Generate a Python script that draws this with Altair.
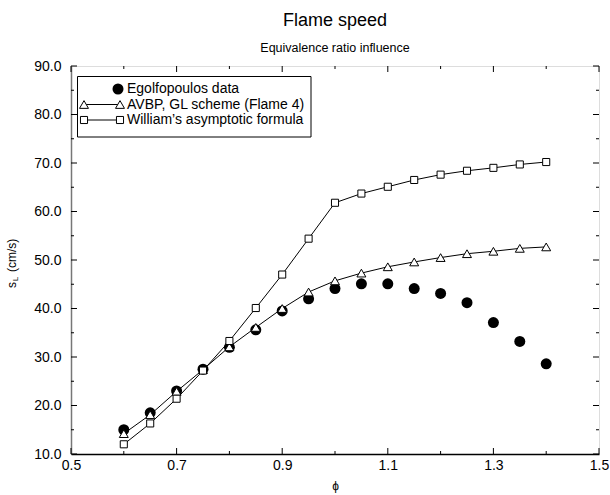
import altair as alt
import pandas as pd

# ---------------- data ----------------
phi = [0.60, 0.65, 0.70, 0.75, 0.80, 0.85, 0.90, 0.95, 1.00, 1.05, 1.10,
       1.15, 1.20, 1.25, 1.30, 1.35, 1.40]
egolfopoulos = [15.0, 18.5, 23.0, 27.5, 32.0, 35.6, 39.5, 42.0, 44.1, 45.1, 45.1,
                44.1, 43.1, 41.2, 37.1, 33.2, 28.6]
avbp = [14.2, 18.1, 22.9, 27.4, 32.1, 36.1, 40.0, 43.4, 45.7, 47.3, 48.6,
        49.6, 50.5, 51.3, 51.8, 52.4, 52.7]
william = [12.0, 16.3, 21.4, 27.2, 33.3, 40.1, 47.0, 54.4, 61.8, 63.7, 65.1,
           66.5, 67.6, 68.4, 69.0, 69.7, 70.2]
series_names = ["Egolfopoulos data", "AVBP, GL scheme (Flame 4)",
                "William\u2019s asymptotic formula"]

x_major = [0.5, 0.7, 0.9, 1.1, 1.3, 1.5]
x_minor = [0.6, 0.8, 1.0, 1.2, 1.4]
y_major = [10, 20, 30, 40, 50, 60, 70, 80, 90]
y_minor = [15, 25, 35, 45, 55, 65, 75, 85]

# ---------------- layout ----------------
W, H = 528, 388
FONT = "Liberation Sans"

df = pd.DataFrame({"phi": phi, "ego": egolfopoulos, "avbp": avbp, "will": william})
xscale = alt.Scale(domain=[0.5, 1.5], nice=False, zero=False)
yscale = alt.Scale(domain=[10, 90], nice=False, zero=False)

x_axis = alt.Axis(values=x_major, format=".1f", title="\u03d5", ticks=False, grid=False,
                  domain=True, domainColor="black", domainWidth=1.5,
                  labelFontSize=14, labelFont=FONT, labelColor="black", labelPadding=4,
                  titleFontSize=12, titleFont=FONT, titleFontWeight="normal",
                  titleColor="black", titlePadding=8, labelFlush=False)
y_axis = alt.Axis(values=y_major, format=".1f", title=None, ticks=False, grid=False,
                  domain=True, domainColor="#777", domainWidth=1.5,
                  labelFontSize=14, labelFont=FONT, labelColor="black", labelPadding=10,
                  labelFlush=False)

X = alt.X("phi:Q", scale=xscale, axis=x_axis)


def Yf(field):
    return alt.Y(field + ":Q", scale=yscale, axis=y_axis)


base = alt.Chart(df)

ego_pts = base.mark_circle(color="black", size=121, opacity=1).encode(x=X, y=Yf("ego"))

avbp_line = base.mark_line(color="black", strokeWidth=1).encode(x=X, y=Yf("avbp"))
avbp_pts = base.mark_point(shape="triangle-up", filled=True, fill="white", stroke="black",
                           strokeWidth=1, size=80, opacity=1).encode(x=X, y=Yf("avbp"))

will_line = base.mark_line(color="black", strokeWidth=1).encode(x=X, y=Yf("will"))
will_pts = base.mark_point(shape="square", filled=True, fill="white", stroke="black",
                           strokeWidth=1, size=50, opacity=1).encode(x=X, y=Yf("will"))

# inward ticks on all four sides
dfx_major = pd.DataFrame({"phi": x_major})
dfx_minor = pd.DataFrame({"phi": x_minor})
dfy_major = pd.DataFrame({"s": y_major})
dfy_minor = pd.DataFrame({"s": y_minor})

tick_layers = []
for d, L in ((dfx_major, 6), (dfx_minor, 3)):
    tick_layers.append(alt.Chart(d).mark_rule(color="black", strokeWidth=1).encode(
        x=X, y=alt.value(H), y2=alt.value(H - L)))
    tick_layers.append(alt.Chart(d).mark_rule(color="black", strokeWidth=1).encode(
        x=X, y=alt.value(0), y2=alt.value(L)))
for d, L in ((dfy_major, 6), (dfy_minor, 3)):
    tick_layers.append(alt.Chart(d).mark_rule(color="black", strokeWidth=1).encode(
        y=Yf("s"), x=alt.value(0), x2=alt.value(L)))
    tick_layers.append(alt.Chart(d).mark_rule(color="black", strokeWidth=1).encode(
        y=Yf("s"), x=alt.value(W), x2=alt.value(W - L)))

# ---------------- legend (drawn inside the plot) ----------------
one = pd.DataFrame({"k": [0]})
leg_rows_y = [23, 38.5, 54]
leg_layers = [
    alt.Chart(one).mark_rect(fill="white", stroke="black", strokeWidth=1).encode(
        x=alt.value(6.5), x2=alt.value(240), y=alt.value(10.5), y2=alt.value(71))
]
leg_layers.append(alt.Chart(one).mark_circle(color="black", size=121, opacity=1).encode(
    x=alt.value(47), y=alt.value(leg_rows_y[0])))
for ry, shape, sz in ((leg_rows_y[1], "triangle-up", 80), (leg_rows_y[2], "square", 50)):
    leg_layers.append(alt.Chart(one).mark_rule(color="black", strokeWidth=1).encode(
        x=alt.value(13), x2=alt.value(49), y=alt.value(ry)))
    for px in (13, 49):
        leg_layers.append(alt.Chart(one).mark_point(
            shape=shape, filled=True, fill="white", stroke="black", strokeWidth=1,
            size=sz, opacity=1).encode(x=alt.value(px), y=alt.value(ry)))
for name, ry in zip(series_names, leg_rows_y):
    leg_layers.append(alt.Chart(pd.DataFrame({"t": [name]})).mark_text(
        align="left", baseline="middle", font=FONT, fontSize=14, color="black").encode(
        x=alt.value(56), y=alt.value(ry), text="t:N"))

# ---------------- y-axis title with subscript ----------------
ytitle = [
    alt.Chart(pd.DataFrame({"t": ["s"]})).mark_text(
        angle=270, align="center", baseline="middle", font=FONT, fontSize=12,
        color="black").encode(x=alt.value(-59), y=alt.value(219), text="t:N"),
    alt.Chart(pd.DataFrame({"t": ["L"]})).mark_text(
        angle=270, align="center", baseline="middle", font=FONT, fontSize=8,
        color="black").encode(x=alt.value(-55), y=alt.value(213), text="t:N"),
    alt.Chart(pd.DataFrame({"t": ["(cm/s)"]})).mark_text(
        angle=270, align="left", baseline="middle", font=FONT, fontSize=12,
        color="black").encode(x=alt.value(-59), y=alt.value(206), text="t:N"),
]

chart = alt.layer(
    *tick_layers, ego_pts, avbp_line, avbp_pts, will_line, will_pts,
    *leg_layers, *ytitle
).properties(
    width=W, height=H,
    title=alt.TitleParams(
        "Flame speed", subtitle="Equivalence ratio influence",
        font=FONT, fontSize=18, fontWeight="normal", color="black",
        subtitleFont=FONT, subtitleFontSize=12.5, subtitleColor="black",
        subtitlePadding=12, anchor="middle", offset=5),
    autosize=alt.AutoSizeParams(type="none"),
    padding={"left": 71, "top": 66, "right": 11, "bottom": 41},
).configure_view(
    stroke="#777", strokeWidth=1.5
).configure(background="white")

chart.save("out.html", embed_options={"renderer": "svg", "actions": False})
